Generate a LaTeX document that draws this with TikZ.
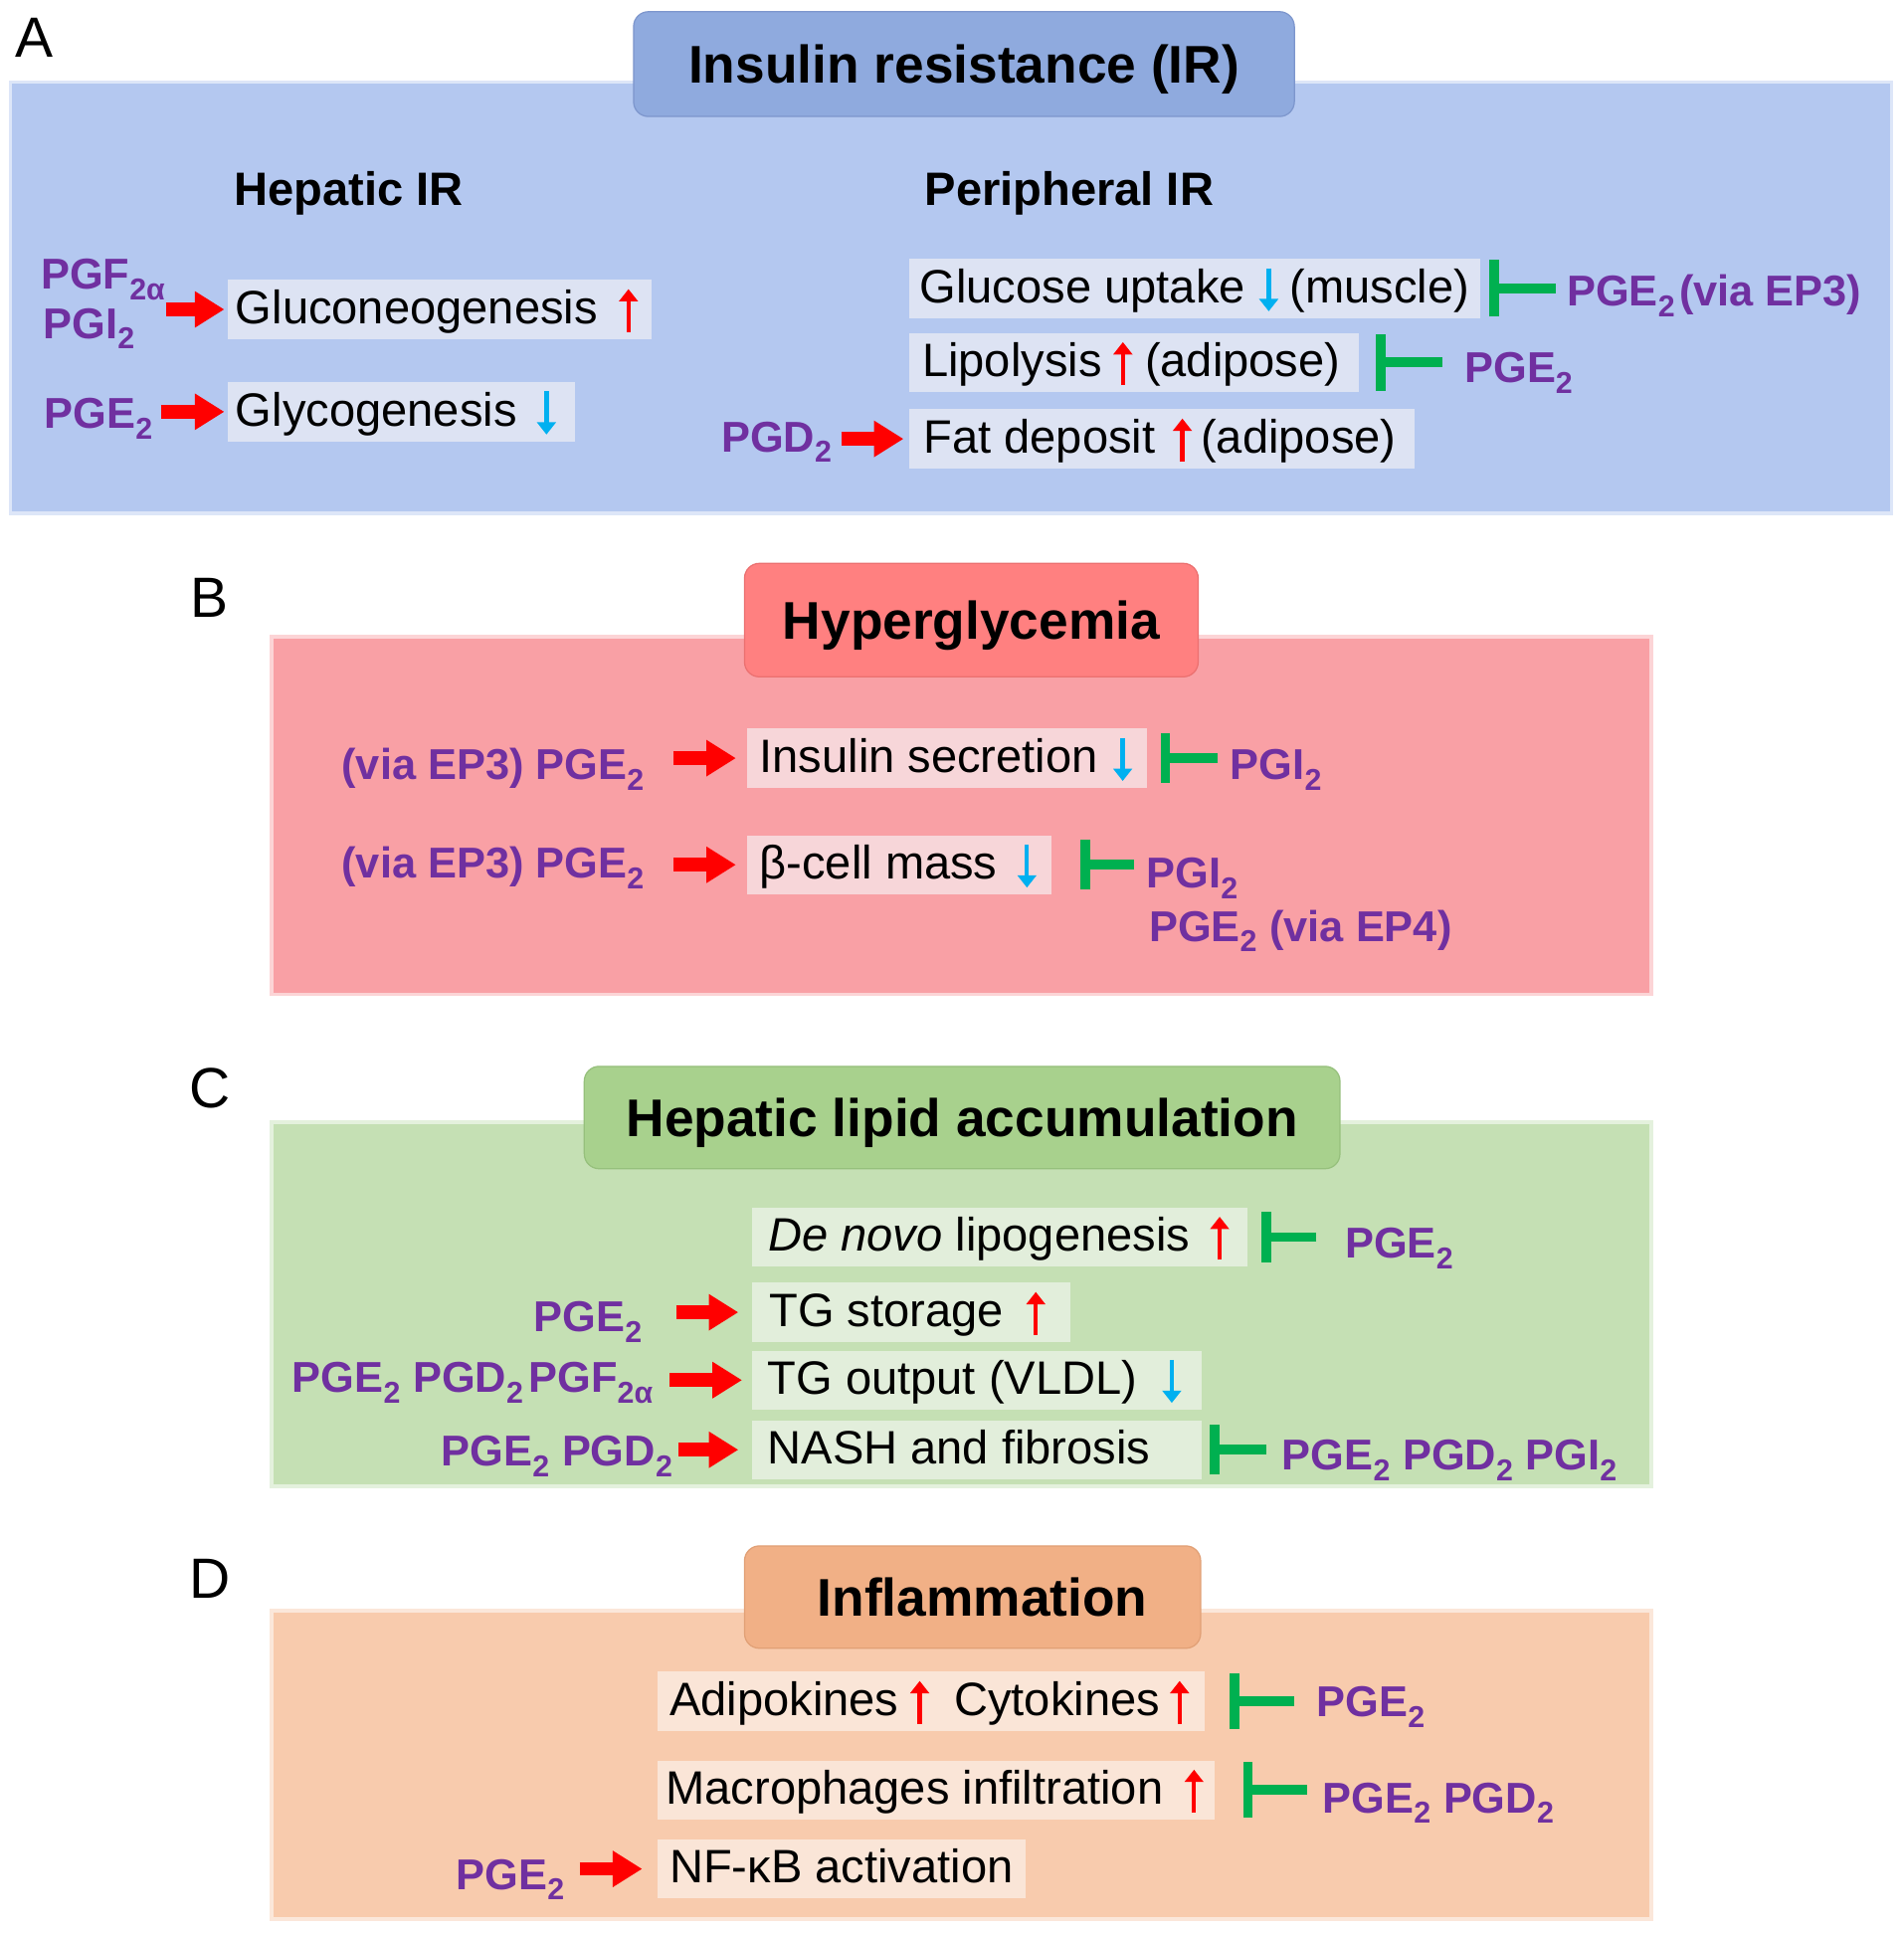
\documentclass[tikz,border=0pt]{standalone}
\usepackage{fontspec}
\setmainfont{Liberation Sans}
\usetikzlibrary{arrows.meta}
\newcommand{\fsz}[1]{\fontsize{#1pt}{#1pt}\selectfont}
\newcommand{\ts}[1]{\textsubscript{#1}}
\newcommand{\bxt}[2]{\makebox[#1pt][l]{#2}}
\definecolor{bgA}{RGB}{180,200,240}
\definecolor{tA}{RGB}{143,170,222}
\definecolor{tAd}{RGB}{125,150,205}
\definecolor{bxA}{RGB}{221,227,243}
\definecolor{bgB}{RGB}{249,160,165}
\definecolor{tB}{RGB}{255,128,128}
\definecolor{tBd}{RGB}{235,112,112}
\definecolor{bxB}{RGB}{247,214,217}
\definecolor{bgC}{RGB}{197,224,180}
\definecolor{tC}{RGB}{168,209,141}
\definecolor{tCd}{RGB}{150,192,124}
\definecolor{bxC}{RGB}{226,238,219}
\definecolor{bgD}{RGB}{248,203,173}
\definecolor{tD}{RGB}{241,176,134}
\definecolor{tDd}{RGB}{225,160,118}
\definecolor{bxD}{RGB}{250,229,215}
\definecolor{pgp}{RGB}{112,48,160}
\definecolor{inhg}{RGB}{0,176,80}
\definecolor{arrred}{RGB}{255,0,0}
\definecolor{arrblue}{RGB}{0,176,240}
\newcommand{\UA}{\tikz[baseline=0pt]{\useasboundingbox (0pt,-7pt) rectangle (16pt,28pt);\draw[arrred,line width=3.5pt,-{Triangle[length=10pt,width=15pt]}] (8pt,-7pt) -- (8pt,28pt);}}
\newcommand{\DA}{\tikz[baseline=0pt]{\useasboundingbox (0pt,-7pt) rectangle (16pt,28pt);\draw[arrblue,line width=3.5pt,-{Triangle[length=10pt,width=15pt]}] (8pt,28pt) -- (8pt,-7pt);}}
\begin{document}
\begin{tikzpicture}[x=1pt,y=-1pt,
  plab/.style={font=\fsz{46}, text height=33pt, text depth=0pt, inner sep=0pt},
  ttl/.style={rounded corners=12pt, line width=1pt, font=\fsz{43}\bfseries, text height=31pt, text depth=0pt, inner sep=0pt},
  hd/.style={anchor=base west, inner sep=0pt, font=\fsz{38}\bfseries},
  bx/.style={anchor=west, inner ysep=6pt, text height=29.5pt, text depth=6.5pt, font=\fsz{38}},
  lab/.style={anchor=base west, inner sep=0pt, font=\fsz{35}\bfseries, text=pgp},
  act/.style={draw=arrred, line width=11pt, -{Triangle[length=24pt,width=28pt]}},
  inh/.style={draw=inhg, line width=8pt, -{Bar[width=#1,line width=8pt]}},
  inh/.default=46pt,
  soft/.style={draw=#1, draw opacity=0.45, line width=6pt}]
\useasboundingbox (0,0) rectangle (1544,1568);
\fill[white] (0,0) rectangle (1544,1568);

% ---------------- Panel A
\fill[bgA] (10,68) rectangle (1533,415);
\draw[soft=bgA] (10,68) rectangle (1533,415);
\node[ttl, fill=tA, draw=tAd, minimum width=536pt, minimum height=85pt] (tA) at (782,52) {Insulin resistance (IR)};
\node[plab] (lA) at (28,30) {A};
\node[hd] (hep) at (190,166.5) {Hepatic IR};
\node[hd] (per) at (750,166.5) {Peripheral IR};

\node[bx, fill=bxA, inner xsep=6pt] (gl) at (185,251) {\bxt{331}{Gluconeogenesis\hspace{17pt}\UA}};
\node[lab] (pf) at (33,234.5) {PGF\ts{2α}};
\node[lab] (pi) at (35,274.5) {PGI\ts{2}};
\draw[act, shorten >=3pt] (gl.west -| pf.east) -- (gl.west);

\node[bx, fill=bxA, inner xsep=6pt] (gy) at (185,334) {\bxt{269}{Glycogenesis\hspace{16pt}\DA}};
\node[lab] (pe1) at (36,347.5) {PGE\ts{2}};
\draw[act, shorten <=6pt, shorten >=3pt] (gy.west -| pe1.east) -- (gy.west);

\node[bx, fill=bxA, inner xsep=9pt] (gu) at (737,234) {\bxt{446}{Glucose uptake\hspace{11pt}\DA\hspace{9pt}(muscle)}};
\node[lab] (pe3) at (1271,248.5) {PGE\ts{2}\hspace{3pt}(via EP3)};
\draw[inh, shorten <=9pt, shorten >=7pt] (gu.east -| pe3.west) -- (gu.east);

\node[bx, fill=bxA, inner xsep=11pt] (lp) at (737,294) {\bxt{343}{Lipolysis\hspace{9pt}\UA\hspace{10pt}(adipose)}};
\node[lab] (pe4) at (1188,310.5) {PGE\ts{2}};
\draw[inh, shorten <=18pt, shorten >=14pt] (lp.east -| pe4.west) -- (lp.east);

\node[bx, fill=bxA, inner xsep=12pt] (fd) at (737,356) {\bxt{386}{Fat deposit\hspace{14pt}\UA\hspace{7pt}(adipose)}};
\node[lab] (pd1) at (585,366.5) {PGD\ts{2}};
\draw[act, shorten <=7pt, shorten >=4pt] (fd.west -| pd1.east) -- (fd.west);

% ---------------- Panel B
\fill[bgB] (222,518) rectangle (1338,805);
\draw[soft=bgB] (222,518) rectangle (1338,805);
\node[ttl, fill=tB, draw=tBd, minimum width=368pt, minimum height=92pt] (tB) at (788,503) {Hyperglycemia};
\node[plab] (lB) at (170,484) {B};

\node[bx, fill=bxB, inner xsep=10pt] (is) at (606,615) {\bxt{304}{Insulin secretion\hspace{12pt}\DA}};
\node[lab] (v1) at (277,632.5) {(via EP3) PGE\ts{2}};
\draw[act, shorten <=23pt, shorten >=9pt] (is.west -| v1.east) -- (is.west);
\node[lab] (gi1) at (998,632.5) {PGI\ts{2}};
\draw[inh=40pt, shorten <=10pt, shorten >=11pt] (is.east -| gi1.west) -- (is.east);

\node[bx, fill=bxB, inner xsep=10pt] (bc) at (606,701.5) {\bxt{227}{β-cell mass\hspace{16pt}\DA}};
\node[lab] (v2) at (277,712.5) {(via EP3) PGE\ts{2}};
\draw[act, shorten <=23pt, shorten >=9pt] (bc.west -| v2.east) -- (bc.west);
\node[lab] (gi2) at (930,720.5) {PGI\ts{2}};
\node[lab] (ep4) at (932,763.5) {PGE\ts{2} (via EP4)};
\draw[inh=40pt, shorten <=10pt, shorten >=23pt] (bc.east -| gi2.west) -- (bc.east);

% ---------------- Panel C
\fill[bgC] (222,912) rectangle (1338,1204);
\draw[soft=bgC] (222,912) rectangle (1338,1204);
\node[ttl, fill=tC, draw=tCd, minimum width=613pt, minimum height=83pt] (tC) at (780.5,906.5) {Hepatic lipid accumulation};
\node[plab] (lC) at (170,882) {C};

\node[bx, fill=bxC, inner xsep=13pt] (dn) at (610,1003.5) {\bxt{376}{\textit{De novo} lipogenesis\hspace{16pt}\UA}};
\node[lab] (c1) at (1091,1020.5) {PGE\ts{2}};
\draw[inh=41pt, shorten <=23pt, shorten >=11pt] (dn.east -| c1.west) -- (dn.east);

\node[bx, fill=bxC, inner xsep=14pt] (ts) at (610,1064.5) {\bxt{230}{TG storage\hspace{18pt}\UA}};
\node[lab] (c2) at (433,1080.5) {PGE\ts{2}};
\draw[act, shorten <=27pt, shorten >=11pt] (ts.west -| c2.east) -- (ts.west);

\node[bx, fill=bxC, inner xsep=12.5pt] (to) at (610,1119.5) {\bxt{340}{TG output (VLDL)\hspace{20pt}\DA}};
\node[lab] (c3) at (237,1129.5) {PGE\ts{2} PGD\ts{2}\hspace{4pt}PGF\ts{2α}};
\draw[act, shorten <=13pt, shorten >=8pt] (to.west -| c3.east) -- (to.west);

\node[bx, fill=bxC, inner xsep=12.5pt] (na) at (610,1176) {\bxt{340}{NASH and fibrosis}};
\node[lab] (c4) at (358,1189.5) {PGE\ts{2} PGD\ts{2}};
\draw[act, shorten <=4pt, shorten >=11pt] (na.west -| c4.east) -- (na.west);
\node[lab] (c5) at (1040,1192.5) {PGE\ts{2} PGD\ts{2} PGI\ts{2}};
\draw[inh=40pt, shorten <=13pt, shorten >=6pt] (na.east -| c5.west) -- (na.east);

% ---------------- Panel D
\fill[bgD] (222,1308) rectangle (1338,1555);
\draw[soft=bgD] (222,1308) rectangle (1338,1555);
\node[ttl, fill=tD, draw=tDd, minimum width=370pt, minimum height=83pt] (tD) at (789,1295.5) {\hspace{16pt}Inflammation};
\node[plab] (lD) at (170,1280) {D};

\node[bx, fill=bxD, inner xsep=10pt] (ad) at (533,1380) {\bxt{424}{Adipokines\hspace{9pt}\UA\hspace{20pt}Cytokines\hspace{8pt}\UA}};
\node[lab] (d1) at (1068,1392.5) {PGE\ts{2}};
\draw[inh=45pt, shorten <=18pt, shorten >=20pt] (ad.east -| d1.west) -- (ad.east);

\node[bx, fill=bxD, inner xsep=7pt] (mi) at (533,1452) {\bxt{438}{Macrophages infiltration\hspace{17pt}\UA}};
\node[lab] (d2) at (1073,1470.5) {PGE\ts{2} PGD\ts{2}};
\draw[inh=45pt, shorten <=13pt, shorten >=23pt] (mi.east -| d2.west) -- (mi.east);

\node[bx, fill=bxD, inner xsep=10pt] (nf) at (533,1516) {\bxt{279}{NF-κB activation}};
\node[lab] (d3) at (370,1532.5) {PGE\ts{2}};
\draw[act, shorten <=12pt, shorten >=12pt] (nf.west -| d3.east) -- (nf.west);
\end{tikzpicture}
\end{document}
